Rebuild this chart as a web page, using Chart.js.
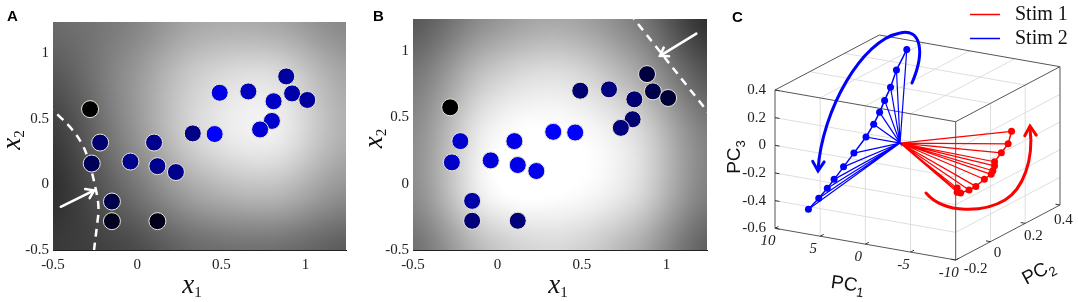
<!DOCTYPE html>
<html>
<head>
<meta charset="utf-8">
<script src="https://cdn.jsdelivr.net/npm/chart.js@4.4.1/dist/chart.umd.min.js"></script>
<style>
html, body { margin: 0; padding: 0; background: #fff; }
#wrap { position: relative; width: 1078px; height: 302px; overflow: hidden; }
canvas { position: absolute; top: 0; }
</style>
</head>
<body>
<div id="wrap">
    <canvas id="chartA" width="358" height="302" style="left:0px"></canvas>
    <canvas id="chartB" width="358" height="302" style="left:360px"></canvas>
    <canvas id="chartC" width="358" height="302" style="left:720px"></canvas>
</div>
<script>
'use strict';

// ------------------------------------------------------- //
// Data: panels A and B (same stimuli, different colouring)
// ------------------------------------------------------ //
var x1Vals = [-0.28, -0.22, -0.27, -0.04, 0.10, 0.12, 0.23, -0.15, -0.15, 0.12,
              0.33, 0.46, 0.49, 0.66, 0.885, 0.92, 0.81, 1.01, 0.80, 0.73];
var x2Vals = [0.575, 0.32, 0.16, 0.175, 0.32, 0.14, 0.095, -0.13, -0.28, -0.28,
              0.39, 0.385, 0.70, 0.71, 0.825, 0.695, 0.635, 0.645, 0.485, 0.42];
// blue level of each dot (0 = black, 1 = pure blue)
var levelA = [0, 0.44, 0.35, 0.55, 0.56, 0.56, 0.54, 0.29, 0.12, 0.10,
              0.53, 1.0, 0.90, 0.75, 0.63, 0.66, 0.77, 0.62, 0.80, 0.84];
var levelB = [0, 0.82, 0.78, 0.85, 0.91, 0.91, 0.93, 0.66, 0.48, 0.48,
              1.0, 1.0, 0.44, 0.50, 0.25, 0.29, 0.44, 0.22, 0.44, 0.50];
var tickVals = [-0.5, 0, 0.5, 1];

// background grey level on a 5x5 grid (rows top -> bottom, cols left -> right)
var shadeA = [
    [107, 128, 168, 168, 136],
    [85, 144, 208, 224, 168],
    [60, 136, 216, 238, 176],
    [48, 106, 168, 186, 144],
    [58, 72, 106, 112, 92]
];
var shadeB = [
    [88, 144, 168, 128, 48],
    [120, 200, 224, 176, 88],
    [140, 240, 255, 224, 128],
    [140, 244, 255, 224, 128],
    [112, 192, 216, 176, 96]
];

// dashed decision boundaries
var boundA1 = [-0.54, -0.5, -0.47, -0.39, -0.327, -0.29, -0.248, -0.23, -0.24, -0.254, -0.26];
var boundA2 = [0.6, 0.5625, 0.53, 0.425, 0.3075, 0.1875, -0.025, -0.175, -0.325, -0.475, -0.55];
var boundB1 = [0.78, 1.27];
var boundB2 = [1.286, 0.499];

// arrows: [fromX1, fromX2, toX1, toX2]
var arrowA = [-0.454, -0.17, -0.256, -0.045];
var arrowB = [1.177, 1.13, 0.962, 0.9625];

// ------------------------------------------------------- //
// Data: panel C (PCA trajectories)
// ------------------------------------------------------ //
var stim1PC1 = [-8, -8, -8, -8, -8, -8, -8, -8, -8, -8, -8, -8, -8];
var stim1PC2 = [0.24, 0.22, 0.18, 0.14, 0.14, 0.13, 0.12, 0.08, 0.03, -0.01, -0.06, -0.08, -0.08];
var stim1PC3 = [0.02, -0.06, -0.10, -0.14, -0.17, -0.20, -0.22, -0.23, -0.25, -0.25, -0.24, -0.22, -0.19];
var stim2PC1 = [7.3, 6.9, 6.7, 6.7, 6.4, 6.0, 5.4, 5.3, 5.4, 5.6, 5.7, 5.8, 5.4];
var stim2PC2 = [-0.16, -0.12, -0.08, -0.04, 0.0, 0.04, 0.08, 0.12, 0.16, 0.20, 0.24, 0.28, 0.32];
var stim2PC3 = [-0.47, -0.41, -0.36, -0.32, -0.25, -0.17, -0.07, 0.0, 0.06, 0.12, 0.19, 0.29, 0.42];
var spokeOrigin = [0, 0, 0];

var pc1Ticks = [10, 5, 0, -5, -10];
var pc2Ticks = [-0.2, 0, 0.2, 0.4];
var pc3Ticks = [0.4, 0.2, 0, -0.2, -0.4, -0.6];
var legendLabels = ['Stim 1', 'Stim 2'];

// Main colours
var stim1Color = '#ff0000';
var stim2Color = '#0000ff';
var serif = "'Liberation Serif', 'Times New Roman', serif";
var sans = "'Liberation Sans', Arial, sans-serif";

// ------------------------------------------------------- //
// helpers
// ------------------------------------------------------ //
function cubic(p0, p1, p2, p3, t) {
    return p1 + 0.5 * t * (p2 - p0 + t * (2 * p0 - 5 * p1 + 4 * p2 - p3 + t * (3 * (p1 - p2) + p3 - p0)));
}

function sampleShade(g, fx, fy) {
    var n = g.length, m = g[0].length;
    var ix = Math.floor(fx), iy = Math.floor(fy);
    var tx = fx - ix, ty = fy - iy;
    function row(j) {
        var r = g[Math.min(Math.max(j, 0), n - 1)];
        function c(i) { return r[Math.min(Math.max(i, 0), m - 1)]; }
        return cubic(c(ix - 1), c(ix), c(ix + 1), c(ix + 2), tx);
    }
    return cubic(row(iy - 1), row(iy), row(iy + 1), row(iy + 2), ty);
}

function arrowHead(ctx, tx, ty, fx, fy, len, ang) {
    var a = Math.atan2(ty - fy, tx - fx);
    ctx.beginPath();
    ctx.moveTo(tx - len * Math.cos(a - ang), ty - len * Math.sin(a - ang));
    ctx.lineTo(tx, ty);
    ctx.lineTo(tx - len * Math.cos(a + ang), ty - len * Math.sin(a + ang));
    ctx.stroke();
}

// text with a subscript, left aligned, on the baseline at (x, y)
function subText(ctx, base, sub, x, y, font, subFont, drop) {
    ctx.font = font;
    ctx.textAlign = 'left';
    ctx.textBaseline = 'alphabetic';
    ctx.fillText(base, x, y);
    var w = ctx.measureText(base).width;
    ctx.font = subFont;
    ctx.fillText(sub, x + w, y + drop);
    return w + ctx.measureText(sub).width;
}

function subWidth(ctx, base, sub, font, subFont) {
    ctx.font = font;
    var w = ctx.measureText(base).width;
    ctx.font = subFont;
    return w + ctx.measureText(sub).width;
}

// ------------------------------------------------------- //
// Panels A and B
// ------------------------------------------------------ //
function makeScatterPanel(id, cfg) {
    var shadePlugin = {
        id: 'shade' + id,
        beforeDraw: function (chart) {
            var a = chart.chartArea;
            var w = Math.round(a.right - a.left), h = Math.round(a.bottom - a.top);
            var img = chart.ctx.createImageData(w, h);
            var n = cfg.shade.length - 1, m = cfg.shade[0].length - 1;
            for (var py = 0; py < h; py++) {
                for (var px = 0; px < w; px++) {
                    var v = sampleShade(cfg.shade, px / (w - 1) * m, py / (h - 1) * n);
                    v = Math.max(0, Math.min(255, v));
                    var k = (py * w + px) * 4;
                    img.data[k] = img.data[k + 1] = img.data[k + 2] = v;
                    img.data[k + 3] = 255;
                }
            }
            chart.ctx.putImageData(img, Math.round(a.left), Math.round(a.top));
        }
    };

    var notePlugin = {
        id: 'note' + id,
        afterDatasetsDraw: function (chart) {
            var ctx = chart.ctx, xs = chart.scales.x, ys = chart.scales.y;
            var fx = xs.getPixelForValue(cfg.arrow[0]), fy = ys.getPixelForValue(cfg.arrow[1]);
            var tx = xs.getPixelForValue(cfg.arrow[2]), ty = ys.getPixelForValue(cfg.arrow[3]);
            ctx.save();
            ctx.strokeStyle = '#ffffff';
            ctx.lineWidth = 2.5;
            ctx.lineCap = 'round';
            ctx.beginPath();
            ctx.moveTo(fx, fy);
            ctx.lineTo(tx, ty);
            ctx.stroke();
            arrowHead(ctx, tx, ty, fx, fy, 9, 0.6);
            ctx.restore();
        },
        afterDraw: function (chart) {
            var ctx = chart.ctx, a = chart.chartArea;
            ctx.save();
            ctx.fillStyle = '#000';
            ctx.font = 'bold 15px ' + sans;
            ctx.textBaseline = 'top';
            ctx.textAlign = 'left';
            ctx.fillText(cfg.label, cfg.labelX, 9);

            var f = 'italic 27px ' + serif, fs = '15px ' + serif;
            ctx.fillStyle = '#111';
            var w = subWidth(ctx, 'x', '1', f, fs);
            subText(ctx, 'x', '1', cfg.titleX - w / 2, 293, f, fs, 4);

            ctx.translate(cfg.yTitleBase, (a.top + a.bottom) / 2);
            ctx.rotate(-Math.PI / 2);
            w = subWidth(ctx, 'x', '2', f, fs);
            subText(ctx, 'x', '2', -w / 2 - 4, 0, f, fs, 4);
            ctx.restore();
        }
    };

    var tickFont = { family: serif, size: 15 };
    return new Chart(document.getElementById(id), {
        type: 'scatter',
        data: {
            datasets: [
                {
                    data: x1Vals.map(function (v, i) { return { x: v, y: x2Vals[i] }; }),
                    backgroundColor: cfg.level.map(function (l) { return 'rgb(0,0,' + Math.round(255 * l) + ')'; }),
                    borderColor: '#ece6d2',
                    borderWidth: 1,
                    pointRadius: 8.5,
                    pointHoverRadius: 8.5
                },
                {
                    type: 'line',
                    data: cfg.b1.map(function (v, i) { return { x: v, y: cfg.b2[i] }; }),
                    borderColor: '#ffffff',
                    borderWidth: 2.5,
                    borderDash: [8, 6],
                    pointRadius: 0,
                    tension: 0.4,
                    fill: false
                }
            ]
        },
        options: {
            responsive: false,
            animation: false,
            events: [],
            layout: { padding: { top: cfg.top, right: cfg.right, left: 0, bottom: 0 } },
            plugins: { legend: { display: false }, tooltip: { enabled: false } },
            scales: {
                x: {
                    type: 'linear', min: -0.5, max: 1.24,
                    grid: { display: false, drawTicks: false },
                    border: { display: true, color: '#222', width: 1 },
                    afterFit: function (s) { s.height = 52; },
                    afterBuildTicks: function (s) { s.ticks = tickVals.map(function (v) { return { value: v }; }); },
                    ticks: { padding: 6, color: '#222', font: tickFont, maxRotation: 0, callback: function (v) { return String(v); } }
                },
                y: {
                    type: 'linear', min: -0.5, max: 1.24,
                    grid: { display: false, drawTicks: false },
                    border: { display: false },
                    afterFit: function (s) { s.width = 53; },
                    afterBuildTicks: function (s) { s.ticks = tickVals.map(function (v) { return { value: v }; }); },
                    ticks: { padding: 4, color: '#222', font: tickFont, callback: function (v) { return String(v); } }
                }
            }
        },
        plugins: [shadePlugin, notePlugin]
    });
}

makeScatterPanel('chartA', {
    level: levelA, shade: shadeA, b1: boundA1, b2: boundA2, arrow: arrowA,
    top: 22, right: 12, label: 'A', labelX: 7, titleX: 192, yTitleBase: 20
});
makeScatterPanel('chartB', {
    level: levelB, shade: shadeB, b1: boundB1, b2: boundB2, arrow: arrowB,
    top: 19, right: 11, label: 'B', labelX: 13, titleX: 198, yTitleBase: 22
});

// ------------------------------------------------------- //
// Panel C: 3-D box drawn through a fixed oblique view
// ------------------------------------------------------ //
var view = { ox: 55, oy: 228.3, e1: [180.7, 31.7], e2: [104.3, -55], e3: [0, -138.3] };
var pc1Range = [10, -10], pc2Range = [-0.2, 0.4], pc3Range = [-0.6, 0.4];

function project(p1, p2, p3) {
    var u = (p1 - pc1Range[0]) / (pc1Range[1] - pc1Range[0]);
    var v = (p2 - pc2Range[0]) / (pc2Range[1] - pc2Range[0]);
    var w = (p3 - pc3Range[0]) / (pc3Range[1] - pc3Range[0]);
    return {
        x: view.ox + u * view.e1[0] + v * view.e2[0] + w * view.e3[0],
        y: view.oy + u * view.e1[1] + v * view.e2[1] + w * view.e3[1]
    };
}

function trajectory(a, b, c) {
    return a.map(function (v, i) { return project(v, b[i], c[i]); });
}

function spokes(a, b, c) {
    var o = project(spokeOrigin[0], spokeOrigin[1], spokeOrigin[2]);
    var out = [];
    a.forEach(function (v, i) { out.push(o, project(v, b[i], c[i])); });
    out.push(o);
    return out;
}

function seg(ctx, p, q) {
    var a = project(p[0], p[1], p[2]), b = project(q[0], q[1], q[2]);
    ctx.beginPath();
    ctx.moveTo(a.x, a.y);
    ctx.lineTo(b.x, b.y);
    ctx.stroke();
}

var boxPlugin = {
    id: 'box3d',
    beforeDatasetsDraw: function (chart) {
        var ctx = chart.ctx;
        var x0 = pc1Range[0], x9 = pc1Range[1], y0 = pc2Range[0], y9 = pc2Range[1], z0 = pc3Range[0], z9 = pc3Range[1];
        ctx.save();
        ctx.strokeStyle = '#dedede';
        ctx.lineWidth = 1;
        // grid on the front, right and top faces
        pc1Ticks.slice(1, -1).forEach(function (t) {
            seg(ctx, [t, y0, z0], [t, y0, z9]);
            seg(ctx, [t, y0, z9], [t, y9, z9]);
        });
        pc2Ticks.slice(1, -1).forEach(function (t) {
            seg(ctx, [x9, t, z0], [x9, t, z9]);
            seg(ctx, [x0, t, z9], [x9, t, z9]);
        });
        pc3Ticks.slice(1, -1).forEach(function (t) {
            seg(ctx, [x0, y0, t], [x9, y0, t]);
            seg(ctx, [x9, y0, t], [x9, y9, t]);
        });
        // box edges
        ctx.strokeStyle = '#555';
        seg(ctx, [x0, y0, z0], [x0, y0, z9]);
        seg(ctx, [x0, y0, z0], [x9, y0, z0]);
        seg(ctx, [x9, y0, z0], [x9, y0, z9]);
        seg(ctx, [x9, y0, z0], [x9, y9, z0]);
        seg(ctx, [x9, y9, z0], [x9, y9, z9]);
        seg(ctx, [x0, y0, z9], [x9, y0, z9]);
        seg(ctx, [x0, y0, z9], [x0, y9, z9]);
        seg(ctx, [x0, y9, z9], [x9, y9, z9]);
        seg(ctx, [x9, y0, z9], [x9, y9, z9]);
        // tick marks
        ctx.strokeStyle = '#333';
        pc3Ticks.forEach(function (t) { seg(ctx, [x0, y0, t], [x0 - 0.5, y0, t]); });
        pc1Ticks.forEach(function (t) { seg(ctx, [t, y0, z0], [t, y0 + 0.02, z0]); });
        pc2Ticks.forEach(function (t) { seg(ctx, [x9, t, z0], [x9 + 0.5, t, z0]); });
        ctx.restore();
    },
    afterDraw: function (chart) {
        var ctx = chart.ctx;
        ctx.save();
        ctx.fillStyle = '#222';

        // tick labels
        ctx.font = '15px ' + serif;
        ctx.textAlign = 'right';
        ctx.textBaseline = 'middle';
        pc3Ticks.forEach(function (t) {
            var p = project(pc1Range[0], pc2Range[0], t);
            ctx.fillText(String(t), p.x - 9, p.y);
        });
        ctx.font = 'italic 15px ' + serif;
        ctx.textAlign = 'center';
        pc1Ticks.forEach(function (t) {
            var p = project(t, pc2Range[0], pc3Range[0]);
            ctx.fillText(String(t), p.x - 7, p.y + 13);
        });
        ctx.font = '15px ' + serif;
        ctx.textAlign = 'left';
        pc2Ticks.forEach(function (t) {
            var p = project(pc1Range[1], t, pc3Range[0]);
            var f = (t - pc2Range[0]) / (pc2Range[1] - pc2Range[0]);
            ctx.fillText(String(t), p.x + 8 - 14 * f, p.y + 9 + 6 * f);
        });

        // axis titles
        var f = '19px ' + sans, fs = '13px ' + sans;
        var w;
        ctx.fillStyle = '#111';
        ctx.save();
        ctx.translate(20, 157);
        ctx.rotate(-Math.PI / 2);
        w = subWidth(ctx, 'PC', '3', f, fs);
        subText(ctx, 'PC', '3', -w / 2, 0, f, fs, 5);
        ctx.restore();
        ctx.save();
        ctx.translate(127, 290);
        ctx.rotate(0.14);
        w = subWidth(ctx, 'PC', '1', f, fs);
        subText(ctx, 'PC', '1', -w / 2, 0, f, fs, 5);
        ctx.restore();
        ctx.save();
        ctx.translate(321, 277);
        ctx.rotate(-0.49);
        w = subWidth(ctx, 'PC', '2', f, fs);
        subText(ctx, 'PC', '2', -w / 2, 0, f, fs, 5);
        ctx.restore();

        // rotation arrows
        ctx.lineWidth = 3;
        ctx.lineCap = 'round';
        ctx.strokeStyle = stim2Color;
        ctx.beginPath();
        ctx.moveTo(192, 83);
        ctx.bezierCurveTo(206, 50, 200, 28, 180, 33);
        ctx.bezierCurveTo(142, 40, 102, 110, 98, 170);
        ctx.stroke();
        arrowHead(ctx, 98, 171, 99, 150, 11, 0.55);
        ctx.strokeStyle = stim1Color;
        ctx.beginPath();
        ctx.moveTo(206, 193);
        ctx.bezierCurveTo(225, 215, 265, 212, 285, 200);
        ctx.bezierCurveTo(303, 189, 314, 160, 310, 128);
        ctx.stroke();
        arrowHead(ctx, 310, 126, 311, 145, 11, 0.55);

        // legend
        ctx.lineWidth = 1.5;
        ctx.lineCap = 'butt';
        ctx.font = '20px ' + serif;
        ctx.textAlign = 'left';
        ctx.textBaseline = 'middle';
        [stim1Color, stim2Color].forEach(function (c, i) {
            var y = 14.5 + i * 24;
            ctx.strokeStyle = c;
            ctx.beginPath();
            ctx.moveTo(250, y);
            ctx.lineTo(280, y);
            ctx.stroke();
            ctx.fillStyle = '#111';
            ctx.fillText(legendLabels[i], 295, y);
        });

        // panel label
        ctx.fillStyle = '#000';
        ctx.font = 'bold 15px ' + sans;
        ctx.textBaseline = 'top';
        ctx.fillText('C', 12, 10);
        ctx.restore();
    }
};

new Chart(document.getElementById('chartC'), {
    type: 'scatter',
    data: {
        datasets: [
            {
                type: 'line',
                data: spokes(stim2PC1, stim2PC2, stim2PC3),
                borderColor: stim2Color, borderWidth: 1.2, pointRadius: 0, tension: 0
            },
            {
                type: 'line',
                data: trajectory(stim2PC1, stim2PC2, stim2PC3),
                borderColor: stim2Color, borderWidth: 1.5, pointRadius: 3.5,
                pointBackgroundColor: stim2Color, pointBorderWidth: 0, tension: 0
            },
            {
                type: 'line',
                data: spokes(stim1PC1, stim1PC2, stim1PC3),
                borderColor: stim1Color, borderWidth: 1.2, pointRadius: 0, tension: 0
            },
            {
                type: 'line',
                data: trajectory(stim1PC1, stim1PC2, stim1PC3),
                borderColor: stim1Color, borderWidth: 1.5, pointRadius: 3.5,
                pointBackgroundColor: stim1Color, pointBorderWidth: 0, tension: 0
            }
        ]
    },
    options: {
        responsive: false,
        animation: false,
        events: [],
        layout: { padding: 0 },
        plugins: { legend: { display: false }, tooltip: { enabled: false } },
        scales: {
            x: { type: 'linear', min: 0, max: 358, display: false },
            y: { type: 'linear', min: 0, max: 302, reverse: true, display: false }
        }
    },
    plugins: [boxPlugin]
});
</script>
</body>
</html>
